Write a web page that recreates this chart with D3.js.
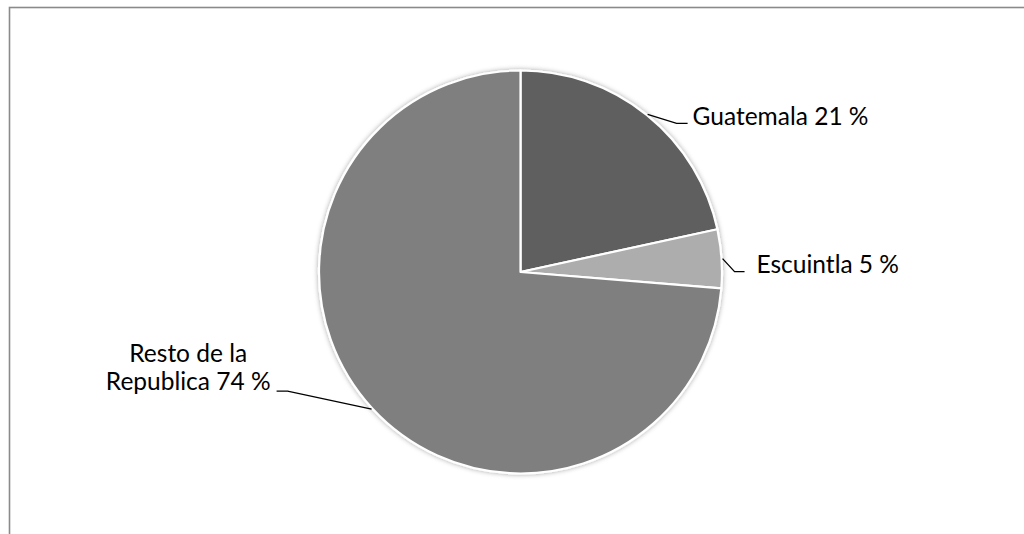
<!DOCTYPE html>
<html>
<head>
<meta charset="utf-8">
<script src="https://cdn.jsdelivr.net/npm/d3@7"></script>
<style>
  html, body { margin: 0; padding: 0; background: #fff; }
  svg { display: block; }
</style>
</head>
<body>
<svg id="chart" width="1024" height="534"></svg>
<script>
const categories = ["Guatemala", "Escuintla", "Resto de la Republica"];
const values = [21.6, 4.7, 73.7];
const labelLines = [["Guatemala 21 %"], ["Escuintla 5 %"], ["Resto de la", "Republica 74 %"]];
const colors = ["#5f5f5f", "#adadad", "#7f7f7f"];

const svg = d3.select("#chart");
const W = 1024, H = 534;

// outer frame (continues past the window edges)
svg.append("rect")
  .attr("x", 9.5).attr("y", 7.5)
  .attr("width", W + 20).attr("height", H + 20)
  .attr("fill", "#fff")
  .attr("stroke", "#8a8a8a")
  .attr("stroke-width", 1.6);

const defs = svg.append("defs");
const f = defs.append("filter").attr("id", "shadow")
  .attr("x", "-10%").attr("y", "-10%").attr("width", "120%").attr("height", "120%");
f.append("feDropShadow").attr("dx", 0).attr("dy", 0)
  .attr("stdDeviation", 2.5).attr("flood-color", "#000").attr("flood-opacity", 0.35);

const cx = 520.5, cy = 272, R = 201.5;

const data = categories.map((c, i) => ({ name: c, value: values[i], lines: labelLines[i], color: colors[i] }));
const pie = d3.pie().value(d => d.value).sort(null);
const arcs = pie(data);
const arc = d3.arc().innerRadius(0).outerRadius(R);

const g = svg.append("g").attr("transform", `translate(${cx},${cy})`);
g.append("g").attr("filter", "url(#shadow)")
  .selectAll("path").data(arcs).join("path")
  .attr("d", arc)
  .attr("fill", d => d.data.color)
  .attr("stroke", "#fff")
  .attr("stroke-width", 2.2)
  .attr("stroke-linejoin", "round");

// label layout: elbow offsets from arc edge point, horizontal segment length, text placement
const layout = [
  { elbow: [29, 9], hlen: 11, side: 1, tx: 5, ty: 1.5 },
  { elbow: [12, 13], hlen: 10, side: 1, tx: 12, ty: 1.5 },
  { elbow: [-84, -18], hlen: -11, side: -1, tx: -6, ty: -1 }
];

const fontFamily = "Lato, 'Open Sans', sans-serif";
const fontSize = 24.5;
const lineHeight = 28;
arcs.forEach((a, i) => {
  const mid = (a.startAngle + a.endAngle) / 2;
  const p0 = [Math.sin(mid) * (R + 1), -Math.cos(mid) * (R + 1)];
  const L = layout[i];
  const p1 = [p0[0] + L.elbow[0], p0[1] + L.elbow[1]];
  const p2 = [p1[0] + L.hlen, p1[1]];
  g.append("path")
    .attr("d", d3.line()([p0, p1, p2]))
    .attr("fill", "none")
    .attr("stroke", "#000")
    .attr("stroke-width", 1.3);
  const lines = a.data.lines;
  const t = g.append("text")
    .attr("font-family", fontFamily)
    .attr("font-size", fontSize)
    .attr("fill", "#000")
    .attr("text-anchor", lines.length > 1 ? "middle" : (L.side > 0 ? "start" : "end"));
  if (lines.length === 1) {
    t.append("tspan")
      .attr("x", p2[0] + L.tx)
      .attr("y", p2[1] + L.ty)
      .text(lines[0]);
  } else {
    const tmp = g.append("text").attr("font-family", fontFamily)
      .attr("font-size", fontSize).text(lines[lines.length - 1]);
    const w = tmp.node().getComputedTextLength();
    tmp.remove();
    const centerX = p2[0] + L.tx - w / 2;
    lines.forEach((ln, k) => {
      t.append("tspan")
        .attr("x", centerX)
        .attr("y", p2[1] + L.ty + (k - (lines.length - 1)) * lineHeight)
        .text(ln);
    });
  }
});
</script>
</body>
</html>
